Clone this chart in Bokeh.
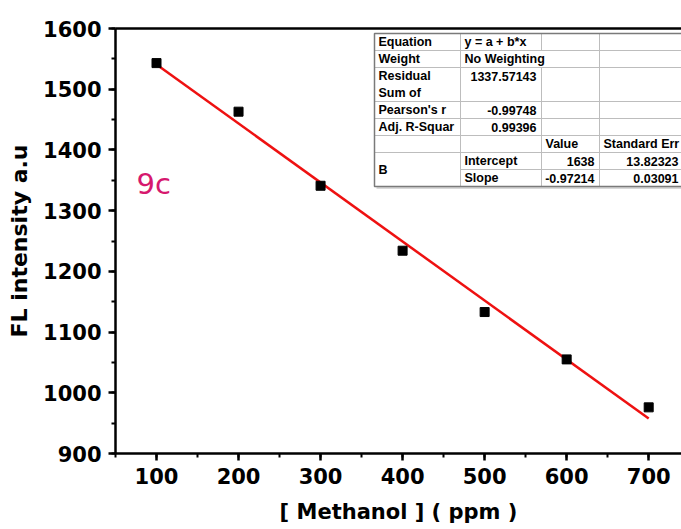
from bokeh.plotting import figure
from bokeh.models import (LinearAxis, SingleIntervalTicker, FixedTicker, Label, Range1d)
from bokeh.core.properties import value
from bokeh.embed import file_html
from bokeh.resources import INLINE

# Measured fluorescence vs. methanol concentration
methanol_ppm = [100, 200, 300, 400, 500, 600, 700]
fl_intensity = [1543, 1463, 1341, 1234, 1133, 1055, 976]

# Linear fit summary (y = a + b*x)
fit_intercept = 1638
fit_slope = -0.97214
fit_intercept_err = 13.82323
fit_slope_err = 0.03091
fit_rss = "1337.57143"
fit_pearson = "-0.99748"
fit_adj_r2 = "0.99396"

X0, X1 = 50, 740
Y0, Y1 = 900, 1600

# frame placement in pixels
FL, FR, FT, FB = 115, 681, 28, 453
W, H = 681, 529

AX_FONT = "DejaVu Sans"

p = figure(width=W, height=H, x_range=Range1d(X0, X1), y_range=Range1d(Y0, Y1),
           output_backend="svg", toolbar_location=None,
           min_border_left=FL, min_border_right=W - FR,
           min_border_top=FT, min_border_bottom=H - FB)
p.outline_line_color = None
p.grid.visible = False
p.background_fill_color = "white"
p.border_fill_color = "white"


def style_axis(ax):
    ax.axis_line_width = 2.5
    ax.axis_line_color = "black"
    ax.major_tick_line_width = 2.5
    ax.major_tick_line_color = "black"
    ax.major_tick_out = 7
    ax.major_tick_in = 0
    ax.minor_tick_line_width = 2
    ax.minor_tick_line_color = "black"
    ax.minor_tick_out = 4
    ax.minor_tick_in = 0
    ax.major_label_text_font = AX_FONT
    ax.major_label_text_font_style = "bold"
    ax.major_label_text_font_size = "21px"
    ax.major_label_text_color = "black"
    ax.major_label_standoff = 7
    ax.axis_label_text_font = AX_FONT
    ax.axis_label_text_font_style = "bold"
    ax.axis_label_text_color = "black"


xa = p.xaxis[0]
xa.ticker = SingleIntervalTicker(interval=100, num_minor_ticks=2)
style_axis(xa)
xa.axis_label = "[ Methanol ] ( ppm )"
xa.axis_label_text_font_size = "21px"
xa.axis_label_standoff = 13

ya = p.yaxis[0]
ya.ticker = SingleIntervalTicker(interval=100, num_minor_ticks=2)
style_axis(ya)
ya.axis_label = "FL intensity a.u"
ya.axis_label_text_font_size = "22px"
ya.axis_label_standoff = 8

top = LinearAxis(ticker=FixedTicker(ticks=[]), major_label_text_font_size="0px",
                 axis_line_width=2.5, axis_line_color="black",
                 major_tick_line_color=None, minor_tick_line_color=None)
p.add_layout(top, "above")


def dx(px):
    return X0 + (px - FL) * (X1 - X0) / (FR - FL)


def dy(py):
    return Y1 - (py - FT) * (Y1 - Y0) / (FB - FT)


# fitted line and measurements
fit_x = [methanol_ppm[0], methanol_ppm[-1]]
fit_y = [fit_intercept + fit_slope * v for v in fit_x]
p.line(fit_x, fit_y, line_color="#ee1111", line_width=2.5)
p.scatter(methanol_ppm, fl_intensity, marker="square", size=9,
          fill_color="black", line_color="black")

# panel tag
p.add_layout(Label(x=dx(136), y=dy(183), text="9c", text_font=AX_FONT,
                   text_font_size="29px", text_color="#d6186e",
                   text_baseline="alphabetic"))

# ---- fit results table ----
TL, TT, TB = 374, 33, 186
TR = 700
C1, C2, C3 = 460, 541, 599
RH = 17
rows = [TT, TT + RH, TT + 2 * RH, TT + 4 * RH, TT + 5 * RH, TT + 6 * RH,
        TT + 7 * RH, TT + 8 * RH, TT + 9 * RH]

p.quad(left=[dx(TL + 2)], right=[dx(TR)], top=[dy(TT + 2)], bottom=[dy(TB + 2.5)],
       fill_color="#d9d9d9", line_color=None)
p.quad(left=[dx(TL)], right=[dx(TR)], top=[dy(TT)], bottom=[dy(TB)],
       fill_color="white", line_color=None)

hx0, hx1, hy0, hy1 = [], [], [], []
for r in rows[1:7]:
    hx0.append(dx(TL)); hx1.append(dx(TR)); hy0.append(dy(r)); hy1.append(dy(r))
hx0.append(dx(C1)); hx1.append(dx(TR)); hy0.append(dy(rows[7])); hy1.append(dy(rows[7]))
vsegs = [(C1, TT, TB), (C2, TT, rows[1]), (C2, rows[2], TB), (C3, TT, TB)]
for (cx, a, b) in vsegs:
    hx0.append(dx(cx)); hx1.append(dx(cx)); hy0.append(dy(a)); hy1.append(dy(b))
p.segment(x0=hx0, y0=hy0, x1=hx1, y1=hy1, line_color="#bdbdbd", line_width=1)

p.quad(left=[dx(TL)], right=[dx(TR)], top=[dy(TT)], bottom=[dy(TB)],
       fill_color=None, line_color="#7a7a7a", line_width=1.5)

TFONT = value("Liberation Sans")
TSIZE = "12.5px"


def cell_text(xs, ys, texts, align):
    p.text(x=[dx(v) for v in xs], y=[dy(v) for v in ys], text=texts,
           text_font=TFONT, text_font_style="bold", text_font_size=TSIZE,
           text_color="black", text_align=align, text_baseline="middle")


mid = [(rows[i] + rows[i + 1]) / 2 for i in range(8)]
resid_top = rows[2] + RH / 2
resid_bot = rows[2] + 1.5 * RH

# left column labels
cell_text([378] * 7,
          [mid[0], mid[1], resid_top, resid_bot, mid[3], mid[4], rows[7]],
          ["Equation", "Weight", "Residual", "Sum of", "Pearson's r", "Adj. R-Squar", "B"],
          "left")
# second column, left-aligned entries
cell_text([464] * 4, [mid[0], mid[1], mid[6], mid[7]],
          ["y = a + b*x", "No Weighting", "Intercept", "Slope"], "left")
# second column numbers
cell_text([536] * 3, [resid_top, mid[3], mid[4]],
          [fit_rss, fit_pearson, fit_adj_r2], "right")
# parameter headers
cell_text([545, 603], [mid[5], mid[5]], ["Value", "Standard Err"], "left")
# parameter values and errors
cell_text([594, 594], [mid[6], mid[7]], [str(fit_intercept), str(fit_slope)], "right")
cell_text([678, 678], [mid[6], mid[7]],
          [str(fit_intercept_err), str(fit_slope_err)], "right")

open("out.html", "w").write(file_html(p, INLINE))
